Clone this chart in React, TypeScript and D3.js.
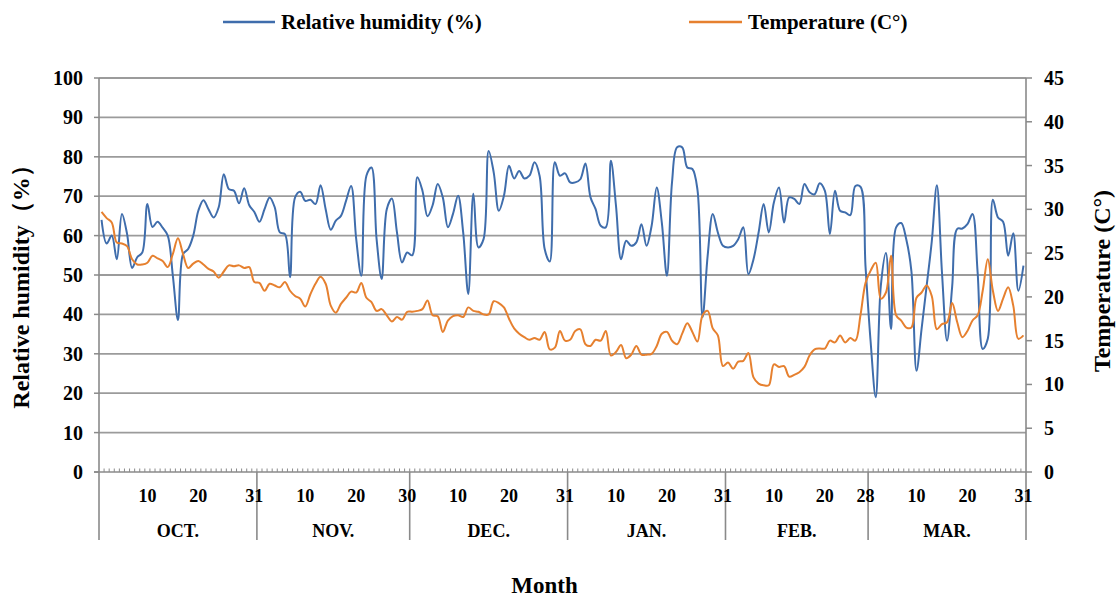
import React from "react";
import * as d3 from "d3";

// daily data, 1 Oct - 31 Mar
const months = ["OCT.", "NOV.", "DEC.", "JAN.", "FEB.", "MAR."];
const monthDays = [31, 30, 31, 31, 28, 31];
const dayLabels = [
  [10, 20, 31],
  [10, 20, 30],
  [10, 20, 31],
  [10, 20, 31],
  [10, 20, 28],
  [10, 20, 31],
];

const rhOct = [64, 58, 60, 54, 65.5, 60.5, 51.8, 54.5, 55.7, 68, 62.2, 63.5, 62, 60, 49.8, 38.6, 55.3, 56.6, 60, 66.3, 69, 66.7, 64.6, 67.2, 75.6, 71.8, 71.4, 68.2, 72, 67.7, 66];
const rhNov = [63.5, 66.7, 69.7, 67.2, 60.8, 60.4, 49.4, 69.7, 71.1, 68.8, 69.1, 68, 72.8, 66.7, 61.5, 63.8, 65, 68.8, 72.6, 59.1, 49.8, 75.2, 77.3, 59.1, 49, 66.7, 69.4, 60.8, 53.2, 55.7];
const rhDec = [55, 74.8, 71.4, 64.9, 67.7, 73.1, 69.7, 62.1, 65.5, 70.1, 60.8, 45.2, 70.6, 57, 59.1, 81.5, 76, 66.3, 70.1, 77.7, 74.5, 76.4, 74.5, 75.2, 78.6, 75.2, 56.6, 53.4, 78.6, 75.2, 75.8];
const rhJan = [73.5, 73.5, 74.3, 78.3, 69.7, 66.7, 62.5, 62.1, 79, 67.6, 54, 58.7, 57.4, 58.3, 62.9, 57.4, 62.5, 72.2, 63.3, 49.8, 73.5, 82.4, 82.4, 77.3, 76.9, 71.6, 39.3, 54.9, 65.5, 60.8, 57.4];
const rhFeb = [57, 57.4, 59.1, 62.1, 50.2, 54, 60.8, 68, 60.8, 68.4, 72.2, 63.3, 69.7, 69.3, 68, 73.1, 71, 70.5, 73.3, 71.4, 60.4, 71.4, 66.3, 65.9, 65.2, 72.6, 72.4, 52];
const rhMar = [33, 19, 47.3, 55.6, 36.3, 62.1, 63.2, 59, 51, 25.7, 36.3, 47.3, 58.5, 72.8, 50.7, 33.3, 47, 61.7, 61.8, 62.9, 65.5, 50.7, 31.2, 33.8, 69.1, 64.6, 63.5, 54.9, 60.6, 46, 52.4];

const tOct = [29.7, 29.0, 28.5, 26.2, 26.1, 25.8, 24.3, 23.7, 23.7, 23.9, 24.7, 24.4, 24.1, 23.4, 24.9, 26.7, 24.9, 23.3, 23.8, 24.1, 23.7, 23.2, 22.9, 22.2, 22.9, 23.6, 23.5, 23.6, 23.3, 23.4, 21.7];
const tNov = [21.6, 20.7, 21.5, 21.3, 21.1, 21.7, 20.7, 20.1, 19.8, 18.9, 20.3, 21.5, 22.3, 21.5, 19.0, 18.2, 19.2, 19.9, 20.6, 20.5, 21.6, 19.9, 19.4, 18.4, 18.6, 17.9, 17.2, 17.7, 17.4, 18.3];
const tDec = [18.3, 18.4, 18.6, 19.6, 17.9, 17.8, 16.0, 17.3, 17.8, 17.9, 17.7, 18.8, 18.4, 18.3, 18.0, 18.0, 19.5, 19.3, 18.8, 17.5, 16.4, 15.8, 15.4, 15.1, 15.3, 15.1, 16.0, 14.0, 14.2, 16.1, 15.0];
const tJan = [15.1, 16.1, 16.3, 14.6, 14.4, 15.1, 15.0, 16.1, 13.3, 13.7, 14.5, 13.0, 13.4, 14.4, 13.4, 13.4, 13.5, 14.4, 15.8, 16.0, 15.0, 14.6, 15.8, 17.0, 16.0, 14.9, 17.9, 18.4, 16.4, 15.6, 12.1];
const tFeb = [12.5, 11.8, 12.6, 12.7, 13.6, 10.8, 10.1, 9.9, 9.9, 12.3, 12.0, 12.1, 10.9, 11.1, 11.4, 12.0, 13.3, 14.0, 14.1, 14.1, 15.0, 14.8, 15.6, 14.8, 15.3, 15.0, 17.9, 21.6];
const tMar = [23.0, 23.9, 19.8, 20.5, 24.7, 17.9, 17.3, 16.5, 16.5, 19.9, 20.5, 21.3, 20.1, 16.3, 16.9, 17.1, 19.3, 17.1, 15.4, 16.1, 17.3, 17.9, 20.7, 24.3, 20.7, 18.4, 19.8, 21.1, 19.0, 15.2, 15.6];

const rhTicks = [0, 10, 20, 30, 40, 50, 60, 70, 80, 90, 100];
const tempTicks = [0, 5, 10, 15, 20, 25, 30, 35, 40, 45];

const humidity = [...rhOct, ...rhNov, ...rhDec, ...rhJan, ...rhFeb, ...rhMar];
const temperature = [...tOct, ...tNov, ...tDec, ...tJan, ...tFeb, ...tMar];

const W = 1116;
const H = 597;
const left = 99;
const right = 1026;
const top = 78;
const bottom = 472;

const BLUE = "#3f6dac";
const ORANGE = "#e6802f";
const GRID = "#9b9b9b";
const FONT = "'Liberation Serif', 'Times New Roman', serif";

const App = () => {
  const x = d3.scaleBand<number>().domain(d3.range(humidity.length)).range([left, right]);
  const bw = x.bandwidth();
  const cx = (i: number) => (x(i) as number) + bw / 2;
  const yL = d3.scaleLinear().domain([0, 100]).range([bottom, top]);
  const yR = d3.scaleLinear().domain([0, 45]).range([bottom, top]);

  const rhLine = d3
    .line<number>()
    .x((d, i) => cx(i))
    .y(d => yL(d))
    .curve(d3.curveCatmullRom.alpha(0.5));
  const tLine = d3
    .line<number>()
    .x((d, i) => cx(i))
    .y(d => yR(d))
    .curve(d3.curveCatmullRom.alpha(0.5));

  const starts = [0, ...Array.from(d3.cumsum(monthDays))];
  const edge = (i: number) => (i >= humidity.length ? right : (x(i) as number));

  return (
    <div style={{ position: "absolute", left: 0, top: 0 }}>
      <svg width={W} height={H} style={{ display: "block", background: "#fff" }} fontFamily={FONT} fontWeight="bold">
        {/* legend */}
        <line x1={223} x2={275} y1={22} y2={22} stroke={BLUE} strokeWidth={2.5} />
        <text x={281} y={29} fontSize={21}>Relative humidity (%)</text>
        <line x1={689} x2={742} y1={22} y2={22} stroke={ORANGE} strokeWidth={2.5} />
        <text x={748} y={29} fontSize={21}>Temperature (C°)</text>

        {/* grid */}
        {rhTicks.filter(t => t > 0).map(t => (
          <line key={t} x1={left} x2={right} y1={yL(t)} y2={yL(t)} stroke={GRID} strokeWidth={1.8} />
        ))}

        {/* left axis */}
        <line x1={left} x2={left} y1={top} y2={bottom} stroke="#8a8a8a" strokeWidth={1.6} />
        {rhTicks.map(t => (
          <g key={t}>
            <line x1={left - 5} x2={left} y1={yL(t)} y2={yL(t)} stroke="#8a8a8a" strokeWidth={1.5} />
            <text x={83} y={yL(t) + 7} textAnchor="end" fontSize={20}>{t}</text>
          </g>
        ))}

        {/* right axis */}
        <line x1={right} x2={right} y1={top} y2={bottom} stroke="#8a8a8a" strokeWidth={1.6} />
        {tempTicks.map(t => (
          <g key={t}>
            <line x1={right} x2={right + 6} y1={yR(t)} y2={yR(t)} stroke="#8a8a8a" strokeWidth={1.5} />
            <text x={1044} y={yR(t) + 7} fontSize={20}>{t}</text>
          </g>
        ))}

        {/* bottom axis with daily minor ticks */}
        <line x1={left - 5} x2={right} y1={bottom} y2={bottom} stroke="#8a8a8a" strokeWidth={1.6} />
        {d3.range(1, humidity.length).map(i => (
          <line key={i} x1={x(i)} x2={x(i)} y1={bottom - 3.5} y2={bottom} stroke="#8a8a8a" strokeWidth={1} />
        ))}
        {starts.map((s, k) => (
          <line key={k} x1={edge(s)} x2={edge(s)} y1={bottom} y2={540} stroke="#8a8a8a" strokeWidth={1.6} />
        ))}
        {months.map((m, k) => (
          <g key={m}>
            {dayLabels[k].map(d => (
              <text key={d} x={cx(starts[k] + d - 1)} y={501.5} textAnchor="middle" fontSize={18}>{d}</text>
            ))}
            <text x={(edge(starts[k]) + edge(starts[k + 1])) / 2} y={536.5} textAnchor="middle" fontSize={18}>{m}</text>
          </g>
        ))}

        {/* series */}
        <path d={rhLine(humidity) || ""} fill="none" stroke={BLUE} strokeWidth={2} />
        <path d={tLine(temperature) || ""} fill="none" stroke={ORANGE} strokeWidth={2} />

        {/* axis titles */}
        <text transform={`translate(28.5,281) rotate(-90)`} textAnchor="middle" fontSize={24}>Relative humidity（%）</text>
        <text transform={`translate(1110,281) rotate(-90)`} textAnchor="middle" fontSize={24}>Temperature (C°)</text>
        <text x={544.5} y={593} textAnchor="middle" fontSize={23}>Month</text>
      </svg>
    </div>
  );
};

export default App;
